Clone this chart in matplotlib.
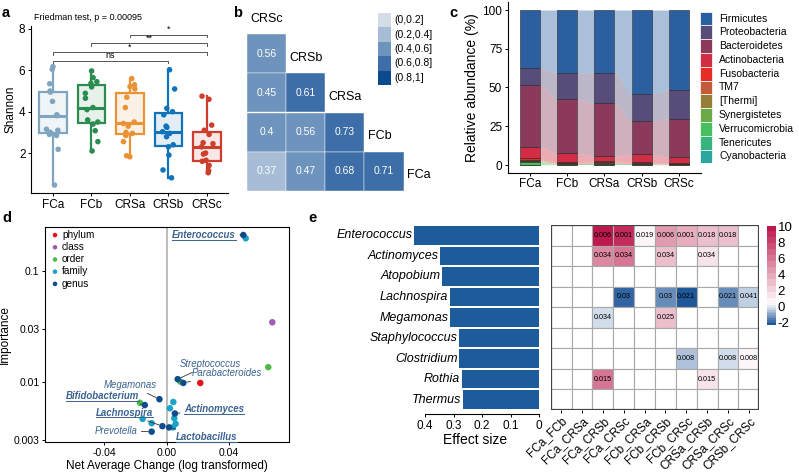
import numpy as np
import matplotlib
matplotlib.use('Agg')
import matplotlib.pyplot as plt
from matplotlib.patches import Rectangle
from matplotlib.lines import Line2D
from matplotlib.text import Text
from matplotlib.colors import LinearSegmentedColormap, TwoSlopeNorm, to_rgba

plt.rcParams['font.family'] = ['Liberation Sans', 'DejaVu Sans']
plt.rcParams['axes.linewidth'] = 0.8
plt.rcParams['xtick.major.width'] = 0.7
plt.rcParams['ytick.major.width'] = 0.7
plt.rcParams['xtick.major.size'] = 2.5
plt.rcParams['ytick.major.size'] = 2.5

W, H = 799, 473

# ---- panel a: Shannon diversity
groups = ['FCa', 'FCb', 'CRSa', 'CRSb', 'CRSc']
shannon_FCa = [0.45, 2.18, 2.85, 2.9, 3.0, 3.1, 3.15, 3.81, 3.85, 4.5, 4.95, 5.0, 5.35, 6.05, 6.18]
shannon_FCb = [2.1, 2.55, 3.08, 3.4, 3.5, 3.6, 4.1, 4.2, 4.65, 4.89, 5.2, 5.37, 5.45, 5.65, 5.97]
shannon_CRSa = [1.82, 1.87, 2.55, 2.85, 2.95, 3.0, 3.3, 3.43, 3.5, 4.2, 4.7, 5.1, 5.22, 5.3, 5.6]
shannon_CRSb = [0.8, 1.18, 1.9, 2.3, 2.4, 2.79, 2.95, 3.03, 3.24, 3.3, 3.85, 4.0, 4.16, 5.1, 6.03]
shannon_CRSc = [1.05, 1.15, 1.4, 1.6, 1.65, 1.95, 2.0, 2.3, 2.45, 2.5, 2.9, 3.1, 3.35, 4.6, 4.75]
friedman_p = 0.00095
comparisons = [('FCa', 'CRSb', 'ns'), ('FCa', 'CRSc', '*'), ('FCb', 'CRSc', '**'), ('CRSa', 'CRSc', '*')]
box_colors = ['#7FA5C0', '#2A8C50', '#EA9234', '#1173BA', '#CF3E2C']

# ---- panel b: correlation between groups (lower triangle)
b_rows = ['CRSc', 'CRSb', 'CRSa', 'FCb', 'FCa']
b_vals = [[0.56],
          [0.45, 0.61],
          [0.401, 0.56, 0.73],
          [0.37, 0.47, 0.68, 0.71]]
b_bins = ['(0,0.2]', '(0.2,0.4]', '(0.4,0.6]', '(0.6,0.8]', '(0.8,1]']
b_colors = ['#D3DDE8', '#A7BDD6', '#6E93BC', '#3E6EA7', '#0C4A8E']

# ---- panel c: phylum relative abundance (%)
phyla = ['Firmicutes', 'Proteobacteria', 'Bacteroidetes', 'Actinobacteria', 'Fusobacteria',
         'TM7', '[Thermi]', 'Synergistetes', 'Verrucomicrobia', 'Tenericutes', 'Cyanobacteria']
phyla_colors = ['#2B5FA0', '#574C7A', '#8B3A5C', '#D12E45', '#E52D26', '#C35A3A',
                '#947E3A', '#6AAA48', '#48BF5E', '#38B47F', '#2AA89F']
abund_FCa = [37.6, 10.8, 39.8, 7.0, 1.5, 0.5, 0.3, 0.3, 2.0, 0.1, 0.1]
abund_FCb = [40.8, 16.6, 35.1, 5.3, 0.8, 0.4, 0.3, 0.2, 0.3, 0.1, 0.1]
abund_CRSa = [40.4, 19.8, 34.0, 3.0, 1.0, 0.6, 0.4, 0.3, 0.3, 0.1, 0.1]
abund_CRSb = [54.4, 17.2, 21.5, 5.2, 0.5, 0.3, 0.2, 0.2, 0.3, 0.1, 0.1]
abund_CRSc = [51.6, 18.7, 24.7, 3.9, 0.3, 0.2, 0.1, 0.1, 0.2, 0.1, 0.1]

# ---- panel d: importance vs net average change
d_change = [0.0492, 0.0507, 0.0678, 0.0652, 0.0216, 0.0071, 0.0087, 0.0107, -0.0046, 0.0043, -0.0171,
            -0.0140, 0.0021, 0.0053, 0.0049, -0.0154, -0.0096, -0.0027, 0.0016, 0.0058, 0.0040, -0.0096]
d_importance = [0.211, 0.197, 0.0345, 0.0136, 0.0098, 0.0106, 0.0101, 0.0098, 0.0070, 0.0066, 0.0065,
                0.0062, 0.0058, 0.0052, 0.0047, 0.00465, 0.00425, 0.0040, 0.0039, 0.0042, 0.0039, 0.00357]
d_level = ['genus', 'family', 'class', 'order', 'phylum', 'genus', 'order', 'genus', 'genus', 'family', 'order',
           'genus', 'family', 'genus', 'family', 'family', 'family', 'genus', 'genus', 'family', 'family', 'genus']
d_names = {0: 'Enterococcus', 5: 'Streptococcus', 7: 'Parabacteroides', 8: 'Megamonas', 11: 'Bifidobacterium',
           13: 'Actinomyces', 17: 'Lachnospira', 18: 'Lactobacillus', 21: 'Prevotella'}
d_bold = ['Enterococcus', 'Bifidobacterium', 'Lachnospira', 'Actinomyces', 'Lactobacillus']
levels = ['phylum', 'class', 'order', 'family', 'genus']
level_colors = ['#E8141B', '#A05BB5', '#4DBB4A', '#1BA3C6', '#0D4C8F']

# ---- panel e: effect size and pairwise differences
e_genera = ['Enterococcus', 'Actinomyces', 'Atopobium', 'Lachnospira', 'Megamonas',
            'Staphylococcus', 'Clostridium', 'Rothia', 'Thermus']
e_effect = [0.439, 0.347, 0.339, 0.312, 0.312, 0.280, 0.280, 0.271, 0.266]
e_pairs = ['FCa_FCb', 'FCa_CRSa', 'FCa_CRSb', 'FCa_CRSc', 'FCb_CRSa',
           'FCb_CRSb', 'FCb_CRSc', 'CRSa_CRSb', 'CRSa_CRSc', 'CRSb_CRSc']
n = np.nan
e_lfc = [[n, n, 9.5, 9.3, 1.0, 4.5, 3.6, 3.0, 2.6, n],
         [n, n, 5.0, 5.6, n, 2.6, n, 1.6, n, n],
         [n] * 10,
         [n, n, n, -2.0, n, -1.4, -2.2, n, -1.4, -0.5],
         [n, n, -0.2, n, n, 3.0, n, n, n, n],
         [n] * 10,
         [n, n, n, n, n, n, -0.6, n, -0.3, 0.9],
         [n, n, 6.0, n, n, n, n, 1.5, n, n],
         [n] * 10]
e_padj = [['', '', '0.006', '0.001', '0.019', '0.006', '0.001', '0.018', '0.018', ''],
          ['', '', '0.034', '0.034', '', '0.034', '', '0.034', '', ''],
          [''] * 10,
          ['', '', '', '0.03', '', '0.03', '0.021', '', '0.021', '0.041'],
          ['', '', '0.034', '', '', '0.025', '', '', '', ''],
          [''] * 10,
          ['', '', '', '', '', '', '0.008', '', '0.008', '0.008'],
          ['', '', '0.015', '', '', '', '', '0.015', '', ''],
          [''] * 10]
lfc_range = (-2.35, 10.1)


def px_axes(x0, y0, x1, y1):
    return fig.add_axes([x0 / W, 1 - y1 / H, (x1 - x0) / W, (y1 - y0) / H])


def panel_label(x, y, s):
    fig.text(x / W, 1 - y / H, s, fontsize=10.5, fontweight='bold', va='center', ha='left')


fig = plt.figure(figsize=(W / 100, H / 100), dpi=100)

# ================= a
ax = px_axes(31, 26, 228, 193)
rng = np.random.default_rng(7)
shannon = [shannon_FCa, shannon_FCb, shannon_CRSa, shannon_CRSb, shannon_CRSc]
for i, (vals, col) in enumerate(zip(shannon, box_colors)):
    pos = i + 1
    ax.boxplot(vals, positions=[pos], widths=0.72, patch_artist=True, showfliers=False, showcaps=False,
               boxprops=dict(facecolor=to_rgba(col, 0.12), edgecolor=col, linewidth=1.6),
               medianprops=dict(color=col, linewidth=2.2),
               whiskerprops=dict(color=col, linewidth=1.6))
    jit = rng.uniform(-0.17, 0.17, len(vals))
    ax.scatter(pos + jit, vals, s=16, color=col, zorder=3, edgecolors='none')
for k, (g1, g2, lab) in enumerate(comparisons):
    x1, x2 = groups.index(g1) + 1, groups.index(g2) + 1
    y = 6.47 + k * 0.42
    ax.plot([x1, x1, x2, x2], [y - 0.13, y, y, y - 0.13], color='#555555', lw=0.7, clip_on=False)
    ax.text((x1 + x2) / 2, y + 0.02, lab, ha='center', va='bottom', fontsize=6.5)
ax.set_xlim(0.43, 5.55)
ax.set_ylim(0.066, 8.145)
ax.set_xticks(range(1, 6))
ax.set_xticklabels(groups, fontsize=8.5)
ax.set_yticks([2, 4, 6, 8])
ax.tick_params(labelsize=8.5, pad=1.5)
ax.set_ylabel('Shannon', fontsize=8.5, labelpad=2)
ax.spines[['top', 'right']].set_visible(False)
fig.text(34 / W, 1 - 17 / H, f'Friedman test, p = {friedman_p}', fontsize=6.5, va='center')
panel_label(2, 13, 'a')

# ================= b
ax = px_axes(247, 34.3, 403.6, 190.7)
edges = [0, 0.2, 0.4, 0.6, 0.8, 1.0]
for r, row in enumerate(b_vals):
    for c, v in enumerate(row):
        k = np.searchsorted(edges, v) - 1
        ax.add_patch(Rectangle((c, r), 1, 1, facecolor=b_colors[k], edgecolor='white', lw=0.3))
        ax.text(c + 0.5, r + 0.5, f'{v:.2f}'.rstrip('0').rstrip('.'),
                ha='center', va='center', color='white', fontsize=7.5)
for j, name in enumerate(b_rows):
    ax.text(j + 0.08, j - 0.4, name, ha='left', va='center', fontsize=9)
ax.set_xlim(0, 4)
ax.set_ylim(4, 0)
ax.axis('off')
lax = px_axes(378, 13, 440, 85)
for k, (lab, col) in enumerate(zip(b_bins, b_colors)):
    lax.add_patch(Rectangle((0, k), 0.21, 1, facecolor=col, edgecolor='none'))
    lax.text(0.26, k + 0.5, lab, va='center', ha='left', fontsize=7.5)
lax.set_xlim(0, 1)
lax.set_ylim(5, 0)
lax.axis('off')
panel_label(233, 13, 'b')

# ================= c
ax = px_axes(507.7, 2.25, 701.1, 172.75)
abund = np.array([abund_FCa, abund_FCb, abund_CRSa, abund_CRSb, abund_CRSc])  # group x phylum
order = list(range(len(phyla)))[::-1]  # stack from Cyanobacteria upwards
stacked = abund[:, order]
tops = np.cumsum(stacked, axis=1)
bots = tops - stacked
pos = np.arange(1, 6)
bw = 0.54
t = np.linspace(0, 1, 40)
s = 3 * t ** 2 - 2 * t ** 3
for j, p in enumerate(order):
    col = phyla_colors[p]
    for i in range(4):
        xs = (pos[i] + bw / 2) + (pos[i + 1] - pos[i] - bw) * t
        lo = bots[i, j] + (bots[i + 1, j] - bots[i, j]) * s
        hi = tops[i, j] + (tops[i + 1, j] - tops[i, j]) * s
        ax.fill_between(xs, lo, hi, color=col, alpha=0.4, lw=0)
    ax.bar(pos, stacked[:, j], bottom=bots[:, j], width=bw, color=col, edgecolor='#222222', lw=0.4)
ax.set_xlim(0.4, 5.6)
ax.set_ylim(-5, 105)
ax.set_xticks(pos)
ax.set_xticklabels(groups, fontsize=8.5)
ax.set_yticks([0, 25, 50, 75, 100])
ax.tick_params(labelsize=8.5, pad=1.5)
ax.set_ylabel('Relative abundance (%)', fontsize=10, labelpad=2)
ax.spines[['top', 'right']].set_visible(False)
lax = px_axes(700, 11.7, 799, 163.3)
for k, (lab, col) in enumerate(zip(phyla, phyla_colors)):
    lax.add_patch(Rectangle((0, k), 12, 1, facecolor=col, edgecolor='white', lw=0.5))
    lax.text(19, k + 0.5, lab, va='center', ha='left', fontsize=7.5)
lax.set_xlim(0, 99)
lax.set_ylim(len(phyla), 0)
lax.axis('off')
panel_label(449, 13, 'c')

# ================= d
ax = px_axes(45, 227, 289, 442)
ax.axvline(0, color='#B0B0B0', lw=1.2, zorder=0)
for lev, col in zip(levels, level_colors):
    idx = [i for i, l in enumerate(d_level) if l == lev]
    ax.scatter([d_change[i] for i in idx], [d_importance[i] for i in idx], s=22, color=col,
               edgecolors='none', zorder=3, label=lev)
ax.set_yscale('log')
ax.set_xlim(-0.078, 0.0785)
ax.set_ylim(0.00288, 0.249)
ax.set_yticks([0.003, 0.01, 0.03, 0.1])
ax.set_yticklabels(['0.003', '0.01', '0.03', '0.1'])
ax.yaxis.set_minor_locator(matplotlib.ticker.NullLocator())
ax.set_xticks([-0.04, 0, 0.04])
ax.set_xticklabels(['-0.04', '0.00', '0.04'])
ax.tick_params(labelsize=7.5, pad=1.5)
ax.set_xlabel('Net Average Change (log transformed)', fontsize=8.5, labelpad=2)
ax.set_ylabel('Importance', fontsize=8.5, labelpad=2)
ax.legend(loc='upper left', bbox_to_anchor=(0.0, 1.02), frameon=False, fontsize=7.2, handlelength=0.6,
          handletextpad=0.4, labelspacing=0.22, markerscale=0.7, borderaxespad=0.3)
# label anchor points (px in figure) for the named taxa
label_px = {'Enterococcus': (235.7, 235, 'right'), 'Streptococcus': (180, 364, 'left'),
            'Parabacteroides': (191.7, 373.3, 'left'), 'Megamonas': (156.7, 385, 'right'),
            'Bifidobacterium': (139, 396, 'right'), 'Lachnospira': (153.3, 412.7, 'right'),
            'Actinomyces': (184.3, 409.3, 'left'), 'Prevotella': (137.3, 430.7, 'right'),
            'Lactobacillus': (176, 437.3, 'left')}
bold_texts = []
for i, name in d_names.items():
    lx, ly, ha = label_px[name]
    tx = (lx - 166.7) / 62.3 * 0.04
    ty = 10 ** (-1 - (ly - 271) / 111)
    bold = name in d_bold
    tt = ax.annotate(name, xy=(d_change[i], d_importance[i]), xytext=(tx, ty), ha=ha, va='center',
                     fontsize=6.9, style='italic', fontweight='bold' if bold else 'normal', color='#3A6391',
                     arrowprops=dict(arrowstyle='-', color='#333333', lw=0.6, shrinkA=1, shrinkB=2.5))
    if bold:
        bold_texts.append(tt)
panel_label(2, 218, 'd')

# ================= e (effect size bars)
ax = px_axes(410.75, 225, 539, 410)
ypos = np.arange(len(e_genera))
ax.barh(ypos, e_effect, height=0.9, color='#1D5B9B')
for y, v, g in zip(ypos, e_effect, e_genera):
    ax.text(v + 0.006, y, g, ha='right', va='center', style='italic', fontsize=9)
ax.set_xlim(0.45, 0)
ax.set_ylim(8.5, -0.5)
ax.set_yticks([])
ax.set_xticks([0.4, 0.3, 0.2, 0.1, 0])
ax.set_xticklabels(['0.4', '0.3', '0.2', '0.1', '0'])
ax.tick_params(labelsize=8.5, pad=1.5)
ax.spines[['top', 'right', 'left']].set_visible(False)
ax.spines['bottom'].set_bounds(0, 0.4)
ax.spines['bottom'].set_position(('outward', 3))
ax.set_xlabel('Effect size', fontsize=10, labelpad=1)
panel_label(308, 218, 'e')

# ================= e (pairwise heatmap)
cmap = LinearSegmentedColormap.from_list('lfc', ['#1E579A', '#FFFFFF', '#BC1A4C'], N=26)
norm = TwoSlopeNorm(vmin=lfc_range[0], vcenter=0.3, vmax=lfc_range[1])
ax = px_axes(550.7, 225, 759.3, 410)
for r in range(len(e_genera)):
    for c in range(len(e_pairs)):
        v = e_lfc[r][c]
        fc = 'white' if np.isnan(v) else cmap(norm(v))
        ax.add_patch(Rectangle((c, r), 1, 1, facecolor=fc, edgecolor='#A8A8A8', lw=0.8))
        if e_padj[r][c]:
            ax.text(c + 0.5, r + 0.5, e_padj[r][c], ha='center', va='center', fontsize=5.2)
ax.add_patch(Rectangle((0, 0), len(e_pairs), len(e_genera), facecolor='none', edgecolor='#444444', lw=1.6))
ax.set_xlim(0, len(e_pairs))
ax.set_ylim(len(e_genera), 0)
ax.set_xticks(np.arange(len(e_pairs)) + 0.5)
ax.set_xticklabels(e_pairs, rotation=45, ha='right', rotation_mode='anchor', fontsize=8.5)
ax.set_yticks([])
ax.tick_params(axis='x', length=2.5, pad=1)
for sp in ax.spines.values():
    sp.set_visible(False)

# colour bar on a linear value axis
cax = px_axes(767, 226, 775, 325)
grad = np.linspace(lfc_range[0], lfc_range[1], 300)[:, None]
cax.imshow(cmap(norm(grad)), aspect='auto', origin='lower',
           extent=[0, 1, lfc_range[0], lfc_range[1]], interpolation='nearest')
cax.set_ylim(*lfc_range)
cax.set_xticks([])
cax.yaxis.tick_right()
cax.set_yticks([10, 8, 6, 4, 2, 0, -2])
cax.set_yticklabels(['10', '8', '6', '4', '2', '0', '-2'])
cax.tick_params(length=0, labelsize=9.5, pad=2)
for sp in cax.spines.values():
    sp.set_visible(False)

# underline the highlighted genera in panel d (text box only, not the connector)
fig.canvas.draw()
rend = fig.canvas.get_renderer()
for tt in bold_texts:
    bb = Text.get_window_extent(tt, rend).transformed(fig.transFigure.inverted())
    yb = bb.y0 + 0.4 / H
    fig.add_artist(Line2D([bb.x0, bb.x1], [yb, yb], transform=fig.transFigure, color='#3A6391', lw=0.7))

fig.savefig('out.png', dpi=100)
